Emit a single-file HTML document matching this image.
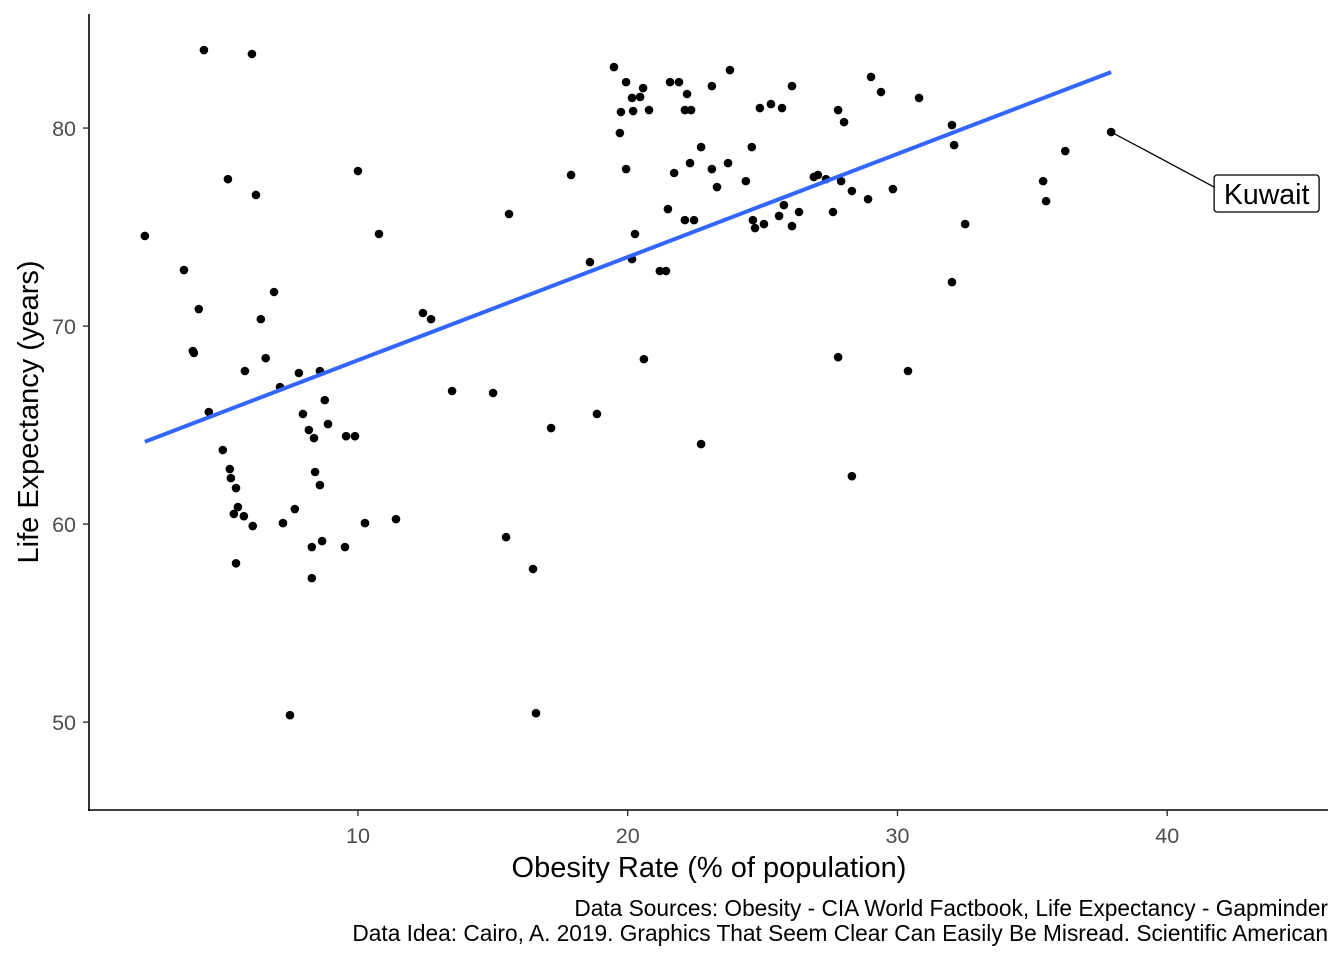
<!DOCTYPE html>
<html><head><meta charset="utf-8"><style>
html,body{margin:0;padding:0;background:#fff;}
svg{display:block;font-family:"Liberation Sans",sans-serif;}
</style></head><body>
<svg id="chart" width="1344" height="960" viewBox="0 0 1344 960" xmlns="http://www.w3.org/2000/svg"></svg>
<script>
const obesity=[2.10,3.55,4.10,3.88,3.92,4.29,4.47,4.99,5.18,5.25,5.29,5.48,5.40,5.55,5.77,5.48,5.81,6.07,6.10,6.22,6.40,6.58,6.89,7.11,7.22,7.66,7.81,7.96,8.18,8.37,8.41,8.59,8.59,8.67,8.29,8.29,8.77,8.89,9.56,9.89,9.52,10.0,10.26,10.78,11.41,7.48,12.41,12.71,13.49,15.01,15.49,15.60,16.49,16.60,17.16,17.90,18.60,18.86,19.49,19.75,19.71,19.94,19.94,20.16,20.20,20.27,20.16,20.46,20.57,20.60,20.79,21.19,21.42,21.49,21.57,21.72,21.90,22.12,22.12,22.20,22.35,22.31,22.46,22.72,22.72,23.12,23.12,23.31,23.72,23.79,24.38,24.60,24.64,24.72,24.90,25.05,25.31,25.61,25.72,25.79,26.09,26.09,26.35,26.90,27.05,27.35,27.61,27.80,27.80,27.91,28.02,28.31,28.31,28.91,29.02,29.39,29.83,30.39,30.80,32.02,32.02,32.10,32.51,35.40,35.51,36.22,37.92];
const lifeExp=[74.55,72.83,70.86,68.74,68.64,83.94,65.66,63.74,77.42,62.78,62.32,61.82,60.51,60.86,60.40,58.02,67.73,83.74,59.90,76.62,70.35,68.38,71.72,66.92,60.05,60.76,67.63,65.56,64.75,64.34,62.63,61.97,67.73,59.14,58.84,57.27,66.26,65.05,64.44,64.44,58.84,77.83,60.05,74.65,60.25,50.35,70.66,70.35,66.72,66.62,59.34,75.66,57.73,50.45,64.85,77.63,73.23,65.56,83.08,80.81,79.75,82.32,77.93,81.52,80.86,74.65,73.38,81.57,82.02,68.33,80.91,72.78,72.78,75.91,82.32,77.73,82.32,80.91,75.35,81.72,80.91,78.23,75.35,79.04,64.04,82.12,77.93,77.02,78.23,82.93,77.32,79.04,75.35,74.95,81.01,75.15,81.21,75.56,81.01,76.11,75.05,82.12,75.76,77.53,77.63,77.42,75.76,80.91,68.43,77.32,80.30,76.82,62.42,76.41,82.58,81.82,76.92,67.73,81.52,80.15,72.22,79.14,75.15,77.32,76.31,78.84,79.80];
const xTicks=[10,20,30,40];
const yTicks=[50,60,70,80];
const labelName="Kuwait";

const NS="http://www.w3.org/2000/svg";
const svg=document.getElementById('chart');
const X0=89,X1=1328,Y0=14,Y1=810;
const xMin=0.03,xMax=45.96,yMin=45.56,yMax=85.76;
const sx=v=>X0+(v-xMin)/(xMax-xMin)*(X1-X0);
const sy=v=>Y1-(v-yMin)/(yMax-yMin)*(Y1-Y0);
function mk(tag,attrs,parent){const e=document.createElementNS(NS,tag);for(const k in attrs)e.setAttribute(k,attrs[k]);(parent||svg).appendChild(e);return e;}

let a=mk('line',{x1:X0,y1:Y0,x2:X0,y2:Y1+1,stroke:'#000','stroke-width':1.6});


a=mk('line',{x1:X0-1,y1:Y1,x2:X1,y2:Y1,stroke:'#000','stroke-width':1.6});



yTicks.forEach(t=>{
  const y=sy(t);
  const l=mk('line',{x1:X0-6,y1:y,x2:X0,y2:y,stroke:'#333','stroke-width':1.4});
  
  
  const tx=mk('text',{x:X0-13,y:y+8,'text-anchor':'end','font-size':21.5,fill:'#4d4d4d'});
  tx.textContent=t;
  
  
});
xTicks.forEach(t=>{
  const x=sx(t);
  const l=mk('line',{x1:x,y1:Y1,x2:x,y2:Y1+6,stroke:'#333','stroke-width':1.4});
  
  
  const tx=mk('text',{x:x,y:843,'text-anchor':'middle','font-size':21.5,fill:'#4d4d4d'});
  tx.textContent=t;
  
  
});

obesity.forEach((o,i)=>{
  const c=mk('circle',{cx:sx(o),cy:sy(lifeExp[i]),r:4.3,fill:'#000'});
  
  
});

const n=obesity.length;
const mx=obesity.reduce((s,v)=>s+v,0)/n, my=lifeExp.reduce((s,v)=>s+v,0)/n;
let num=0,den=0;obesity.forEach((o,i)=>{num+=(o-mx)*(lifeExp[i]-my);den+=(o-mx)*(o-mx);});
const slope=num/den, icpt=my-slope*mx;
const xa=Math.min(...obesity), xb=Math.max(...obesity);
const fit=mk('line',{x1:sx(xa),y1:sy(icpt+slope*xa),x2:sx(xb),y2:sy(icpt+slope*xb),stroke:'#3366ff','stroke-width':4});



const ki=obesity.indexOf(xb);
const kx=sx(obesity[ki]),ky=sy(lifeExp[ki]);
const lx=kx+103, ly=ky+62;
const seg=mk('line',{x1:kx,y1:ky,x2:lx,y2:ly-7,stroke:'#000','stroke-width':1.3});


const box=mk('rect',{x:lx,y:ly-19,width:105,height:37,rx:3,fill:'#fff',stroke:'#000','stroke-width':1.3});


const kt=mk('text',{x:lx+52.5,y:ly+10,'text-anchor':'middle','font-size':28.5,fill:'#000'});
kt.textContent=labelName;



let t=mk('text',{x:709,y:877,'text-anchor':'middle','font-size':29,fill:'#000'});
t.textContent='Obesity Rate (% of population)';


t=mk('text',{x:0,y:0,'text-anchor':'middle','font-size':29,fill:'#000',transform:'translate(38,412) rotate(-90)'});
t.textContent='Life Expectancy (years)';


t=mk('text',{x:1328,y:916,'text-anchor':'end','font-size':22.7,fill:'#000'});
t.textContent='Data Sources: Obesity - CIA World Factbook, Life Expectancy - Gapminder';


t=mk('text',{x:1328,y:941,'text-anchor':'end','font-size':22.7,fill:'#000'});
t.textContent='Data Idea: Cairo, A. 2019. Graphics That Seem Clear Can Easily Be Misread. Scientific American';


</script>
</body></html>
